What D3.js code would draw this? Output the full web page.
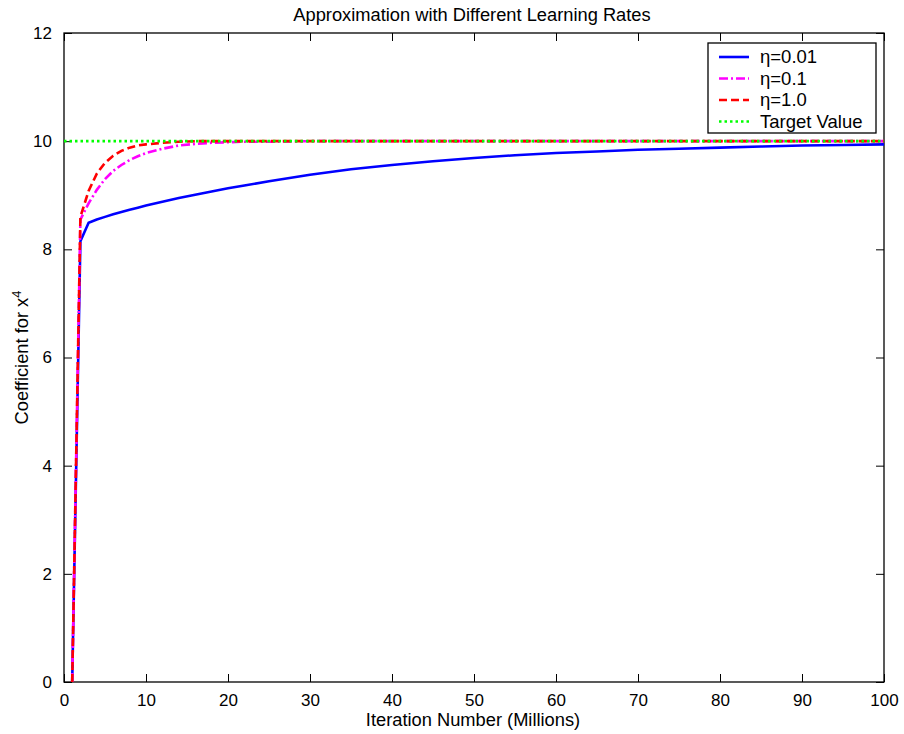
<!DOCTYPE html>
<html>
<head>
<meta charset="utf-8">
<script src="https://cdn.jsdelivr.net/npm/d3@7"></script>
<style>
  body { margin: 0; background: white; }
  text { font-family: "Liberation Sans", Arial, sans-serif; }
</style>
</head>
<body>
<script>
// iteration numbers (millions) where the curves are sampled
const iterations = [1, 2, 3, 4, 5, 6, 7, 8, 9, 10, 12, 14, 16, 18, 20, 22, 25, 30, 35, 40, 45, 50, 55, 60, 65, 70, 75, 80, 85, 90, 95, 100]

// coefficient values
const eta001 = [0, 8.15, 8.49, 8.55, 8.60, 8.65, 8.69, 8.73, 8.77, 8.81, 8.88, 8.95, 9.01, 9.07, 9.13, 9.18, 9.26, 9.38, 9.48, 9.56, 9.63, 9.69, 9.74, 9.78, 9.81, 9.84, 9.86, 9.88, 9.90, 9.92, 9.93, 9.94]
const eta01 = [0, 8.55, 8.85, 9.10, 9.30, 9.45, 9.56, 9.65, 9.72, 9.78, 9.86, 9.92, 9.95, 9.97, 9.98, 9.99, 9.99, 10, 10, 10, 10, 10, 10, 10, 10, 10, 10, 10, 10, 10, 10, 10]
const eta1 = [0, 8.60, 9.08, 9.40, 9.60, 9.73, 9.82, 9.88, 9.92, 9.94, 9.97, 9.99, 10, 10, 10, 10, 10, 10, 10, 10, 10, 10, 10, 10, 10, 10, 10, 10, 10, 10, 10, 10]
const targetX = [0, 100]
const targetY = [10, 10]

const seriesNames = ["\u03b7=0.01", "\u03b7=0.1", "\u03b7=1.0", "Target Value"]
const seriesColors = ["#0000ff", "#ff00ff", "#ff0000", "#00ff00"]
const seriesDash = [null, "9,3,2,3", "8,4", "2.5,3"]

const xTicks = d3.range(0, 101, 10)
const yTicks = d3.range(0, 13, 2)

const width = 904
const height = 734
const marginLeft = 64
const marginRight = 20
const marginTop = 33
const marginBottom = 52
const tickFont = 17
const labelFont = 18.3

const svg = d3.select("body").append("svg")
    .attr("width", width)
    .attr("height", height)

const x = d3.scaleLinear().domain([0, 100]).range([marginLeft, width - marginRight])
const y = d3.scaleLinear().domain([0, 12]).range([height - marginBottom, marginTop])

// clip so the lines stay inside the axes box
svg.append("clipPath").attr("id", "clip")
    .append("rect")
    .attr("x", x(0)).attr("y", y(12))
    .attr("width", x(100) - x(0)).attr("height", y(0) - y(12))

const tickLen = 8

// bottom + top axes (ticks point inward)
svg.append("g")
    .attr("transform", `translate(0,${y(0)})`)
    .call(d3.axisBottom(x).tickValues(xTicks).tickSizeInner(-tickLen).tickSizeOuter(0).tickPadding(12))
    .call(g => g.select(".domain").remove())
svg.append("g")
    .attr("transform", `translate(0,${y(12)})`)
    .call(d3.axisTop(x).tickValues(xTicks).tickSizeInner(-tickLen).tickSizeOuter(0))
    .call(g => g.select(".domain").remove())
    .call(g => g.selectAll("text").remove())

// left + right axes
svg.append("g")
    .attr("transform", `translate(${x(0)},0)`)
    .call(d3.axisLeft(y).tickValues(yTicks).tickSizeInner(-tickLen).tickSizeOuter(0).tickPadding(12))
    .call(g => g.select(".domain").remove())
svg.append("g")
    .attr("transform", `translate(${x(100)},0)`)
    .call(d3.axisRight(y).tickValues(yTicks).tickSizeInner(-tickLen).tickSizeOuter(0))
    .call(g => g.select(".domain").remove())
    .call(g => g.selectAll("text").remove())

svg.selectAll(".tick text")
    .attr("font-family", "Liberation Sans, Arial, sans-serif")
    .attr("font-size", tickFont)
    .attr("fill", "#000")
svg.selectAll(".tick line").attr("stroke", "#000")

// the box
svg.append("rect")
    .attr("x", x(0)).attr("y", y(12))
    .attr("width", x(100) - x(0)).attr("height", y(0) - y(12))
    .attr("fill", "none")
    .attr("stroke", "#000")
    .attr("stroke-width", 1.3)

const line = d3.line().x(d => x(d[0])).y(d => y(d[1]))

const series = [
    d3.zip(iterations, eta001),
    d3.zip(iterations, eta01),
    d3.zip(iterations, eta1),
    d3.zip(targetX, targetY)
]

svg.append("g")
    .attr("clip-path", "url(#clip)")
    .selectAll("path")
    .data(series)
    .join("path")
    .attr("d", line)
    .attr("fill", "none")
    .attr("stroke", (d, i) => seriesColors[i])
    .attr("stroke-width", 2.6)
    .attr("stroke-dasharray", (d, i) => seriesDash[i])

// title and axis labels
svg.append("text")
    .attr("x", (x(0) + x(100)) / 2 - 2)
    .attr("y", 21)
    .attr("text-anchor", "middle")
    .attr("font-size", labelFont)
    .text("Approximation with Different Learning Rates")

svg.append("text")
    .attr("x", (x(0) + x(100)) / 2 - 1)
    .attr("y", 726)
    .attr("text-anchor", "middle")
    .attr("font-size", labelFont)
    .text("Iteration Number (Millions)")

const ylab = svg.append("text")
    .attr("transform", `translate(28,${(y(0) + y(12)) / 2}) rotate(-90)`)
    .attr("text-anchor", "middle")
    .attr("font-size", labelFont)
ylab.append("tspan").text("Coefficient for x")
ylab.append("tspan").attr("dy", -7).attr("font-size", 13).text("4")

// legend
const legend = svg.append("g").attr("transform", "translate(708,43)")
legend.append("rect")
    .attr("width", 168).attr("height", 90)
    .attr("fill", "white")
    .attr("stroke", "#000")
    .attr("stroke-width", 1.3)

const item = legend.selectAll(".item")
    .data(seriesNames)
    .join("g")
    .attr("class", "item")
    .attr("transform", (d, i) => `translate(0,${14 + i * 21.5})`)
item.append("line")
    .attr("x1", 11).attr("x2", 41)
    .attr("stroke", (d, i) => seriesColors[i])
    .attr("stroke-width", 2.6)
    .attr("stroke-dasharray", (d, i) => seriesDash[i])
item.append("text")
    .attr("x", 52)
    .attr("dy", "0.35em")
    .attr("font-size", 18.5)
    .text(d => d)
</script>
</body>
</html>
